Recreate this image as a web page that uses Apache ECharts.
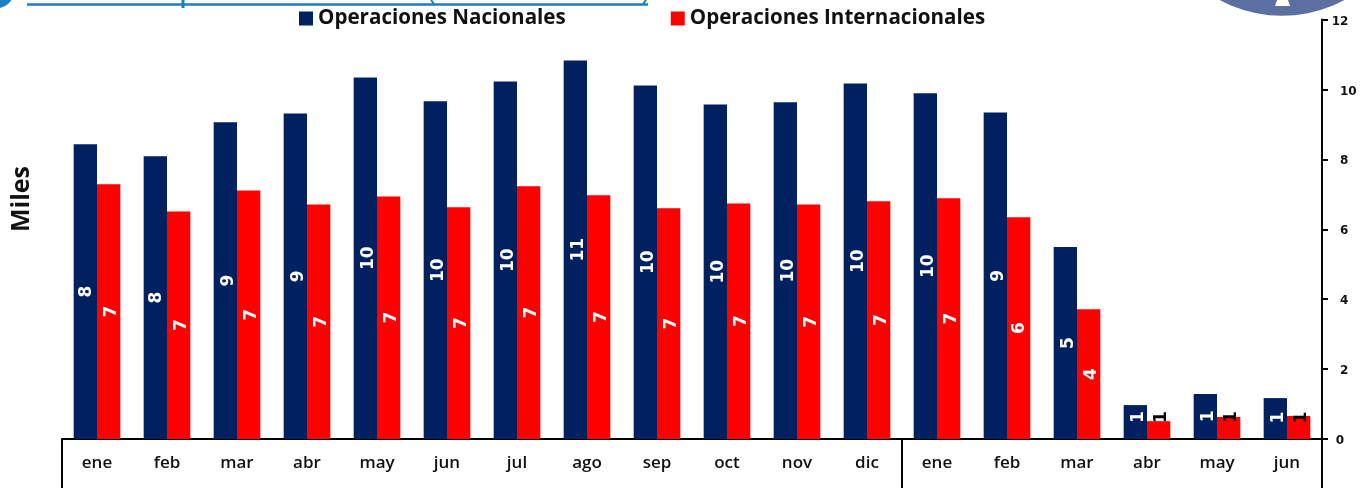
<!DOCTYPE html>
<html><head><meta charset="utf-8">
<style>html,body{margin:0;padding:0;background:#fff}#c{width:1370px;height:488px}</style>
<script src="https://cdn.jsdelivr.net/npm/echarts@6/dist/echarts.min.js"></script>
</head><body><div id="c"></div>
<script>
const categories = ['ene','feb','mar','abr','may','jun','jul','ago','sep','oct','nov','dic','ene','feb','mar','abr','may','jun'];
const nacionales = [8.43,8.09,9.06,9.31,10.34,9.66,10.23,10.83,10.11,9.57,9.63,10.17,9.89,9.34,5.49,0.97,1.29,1.17];
const internacionales = [7.29,6.51,7.11,6.71,6.94,6.63,7.23,6.97,6.6,6.74,6.71,6.8,6.89,6.34,3.71,0.51,0.63,0.66];
const yTicks = [0,2,4,6,8,10,12];
const seriesNames = ['Operaciones Nacionales','Operaciones Internacionales'];
const yTitle = 'Miles';

const NAVY = '#002060', RED = '#FF0000';
const labelFont = {fontFamily:'DejaVu Sans', fontWeight:'bold', fontSize:17};
function items(vals, overrides){
  return vals.map((v,i)=> {
    if (overrides[i]) return {value:v, label:overrides[i]};
    const r = Math.round(v);
    return (r===8||r===6) ? {value:v, label:{offset:[0,1]}} : v;
  });
}
const navyOverrides = {15:{offset:[5,3]},16:{offset:[0,3]},17:{offset:[1,3]}};
const redOverrides = {15:{offset:[13,3],color:'#000'},16:{offset:[11,3],color:'#000'},17:{offset:[10,3],color:'#000'}};
function barSeries(name, vals, color, over){
  return {
    name, type:'bar', barGap:0, barWidth:23.33,
    itemStyle:{color},
    label:{show:true, position:'inside', rotate:90, align:'center', verticalAlign:'middle',
      offset:[0,3], color:'#fff', ...labelFont, formatter:p=>String(Math.round(p.value))},
    data:items(vals, over)
  };
}
const chart = echarts.init(document.getElementById('c'), null, {renderer:'canvas'});
chart.setOption({
  animation:false,
  backgroundColor:'#fff',
  grid:{left:62,right:48,top:19.5,bottom:49},
  legend:{left:294,top:3,itemWidth:14,itemHeight:14,itemGap:105,icon:'rect',
    itemStyle:{borderWidth:0},
    data:seriesNames,
    textStyle:{fontFamily:'Open Sans',fontWeight:'bold',fontSize:20.6,color:'#111'}},
  xAxis:{type:'category',data:categories,
    axisLine:{lineStyle:{color:'#000',width:2}},
    axisTick:{show:true,length:49,inside:false,interval:(i)=>i===0||i===12,lineStyle:{color:'#000',width:2}},
    axisLabel:{interval:0,margin:16,color:'#111',fontFamily:'Open Sans',fontWeight:600,fontSize:17}},
  yAxis:{type:'value',position:'right',min:0,max:12,interval:2,
    axisLine:{show:true,lineStyle:{color:'#000',width:2}},
    axisTick:{show:true,length:6,lineStyle:{color:'#000',width:2}},
    splitLine:{show:false},
    axisLabel:{margin:18,color:'#111',align:'left',alignMinLabel:'center',alignMaxLabel:'center',
      verticalAlign:'middle',
      rich:{a:{padding:[4,0,0,0],fontFamily:'DejaVu Sans',fontWeight:'bold',fontSize:12,color:'#111'}},
      formatter:v=>yTicks.includes(v)?'{a|'+v+'}':''}},
  series:[barSeries(seriesNames[0],nacionales,NAVY,navyOverrides),barSeries(seriesNames[1],internacionales,RED,redOverrides)],
  graphic:[
    {type:'text',left:9,top:166,rotation:Math.PI/2,style:{text:yTitle,fontFamily:'Open Sans',fontWeight:'bold',fontSize:25,fill:'#111'},z:10},
    {type:'circle',shape:{cx:-2,cy:-7,r:15},style:{fill:'#1F7CC6'}},
    {type:'line',shape:{x1:27,y1:4.5,x2:648,y2:4.5},style:{stroke:'#1F7CC6',lineWidth:2.5}},
    {type:'line',shape:{x1:183,y1:0,x2:183,y2:8},style:{stroke:'#1F7CC6',lineWidth:3}},
    {type:'line',shape:{x1:431,y1:0,x2:434,y2:4},style:{stroke:'#1F7CC6',lineWidth:2}},
    {type:'line',shape:{x1:646,y1:0,x2:643,y2:4},style:{stroke:'#1F7CC6',lineWidth:2}},
    {type:'circle',shape:{cx:1282,cy:-116,r:131.7},style:{fill:'#5B70A0'}},
    {type:'polygon',shape:{points:[[1277,0],[1288,0],[1290,6],[1275,6]]},style:{fill:'#fff'}}
  ]
});
</script></body></html>
